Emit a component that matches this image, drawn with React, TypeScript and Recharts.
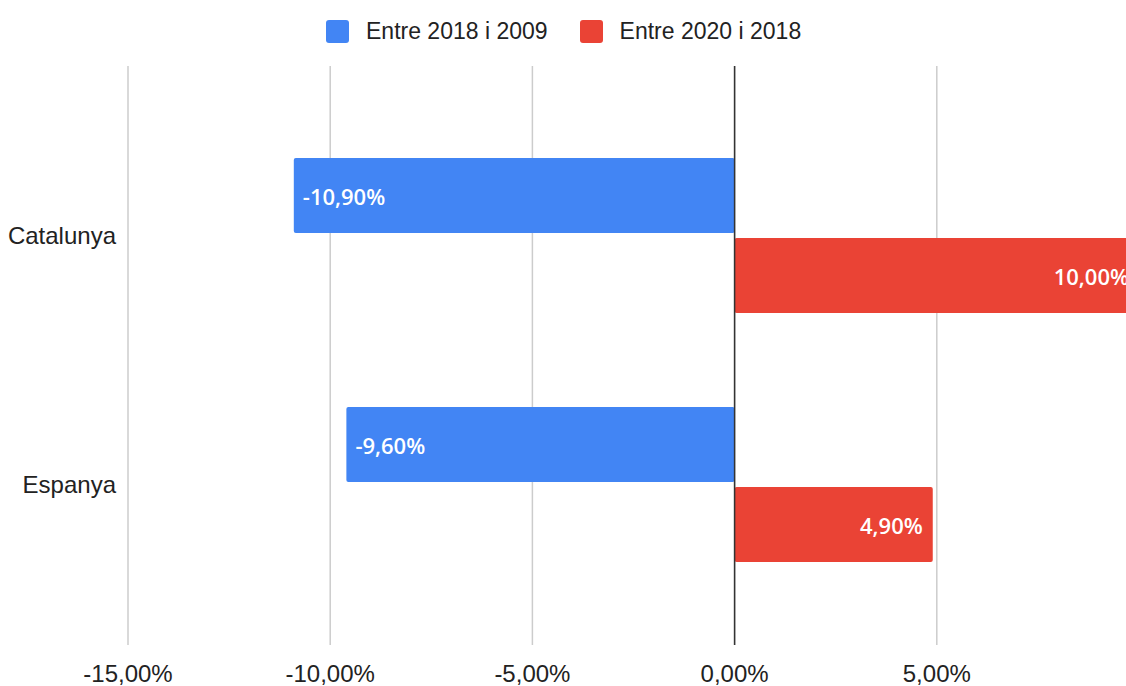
import { BarChart, Bar, XAxis, YAxis, CartesianGrid, ReferenceLine, Legend, LabelList } from "recharts";

const regions = ["Catalunya", "Espanya"];
const change2018vs2009 = [-10.9, -9.6];
const change2020vs2018 = [10.0, 4.9];
const seriesNames = ["Entre 2018 i 2009", "Entre 2020 i 2018"];
const xTicks = [-15, -10, -5, 0, 5];

const COLORS = ["#4285F4", "#EA4335"];
const AXIS_FONT = "'Liberation Sans', Arial, sans-serif";

const data = regions.map((name, i) => ({ name, a: change2018vs2009[i], b: change2020vs2018[i] }));

const pct = (v: number) => `${Number(v).toFixed(2).replace(".", ",")}%`;

function BarText(props: any) {
  const { x, y, width, height, value } = props;
  const left = Math.min(x, x + width);
  const right = Math.max(x, x + width);
  const neg = value < 0;
  return (
    <text
      x={neg ? left + 9 : right - 10}
      y={y + height / 2}
      textAnchor={neg ? "start" : "end"}
      dominantBaseline="central"
      fill="#fff"
      style={{ fontFamily: "'Open Sans', sans-serif", fontSize: 22, fontWeight: 600 }}
    >
      {pct(value)}
    </text>
  );
}

function LegendBox() {
  return (
    <div style={{ display: "flex", alignItems: "center", fontFamily: AXIS_FONT, fontSize: 23, color: "#222" }}>
      {seriesNames.map((s, i) => (
        <div key={s} style={{ display: "flex", alignItems: "center", marginRight: 32 }}>
          <span style={{ width: 23, height: 23, borderRadius: 3, background: COLORS[i], marginRight: 17, display: "inline-block" }} />
          <span>{s}</span>
        </div>
      ))}
    </div>
  );
}

export default function App() {
  return (
    <div style={{ position: "absolute", left: 0, top: 0, width: 1126, height: 686, overflow: "hidden", background: "#fff" }}>
      <BarChart
        width={1139}
        height={686}
        data={data}
        layout="vertical"
        margin={{ top: 66, right: 0, bottom: 0, left: 0 }}
        barSize={75}
        barGap={5}
      >
        <CartesianGrid horizontal={false} stroke="#ccc" strokeWidth={1.5} />
        <XAxis
          type="number"
          domain={[-15, 10]}
          ticks={xTicks}
          tickFormatter={pct}
          axisLine={false}
          tickLine={false}
          height={41}
          tickMargin={14}
          tick={{ fontFamily: AXIS_FONT, fontSize: 24, fill: "#222" }}
          allowDataOverflow
        />
        <YAxis
          type="category"
          dataKey="name"
          width={128}
          axisLine={false}
          tickLine={false}
          tickMargin={6}
          padding={{ top: 45, bottom: 36 }}
          tick={{ fontFamily: AXIS_FONT, fontSize: 24, fill: "#222" }}
        />
        <Legend
          layout="horizontal"
          align="center"
          verticalAlign="middle"
          wrapperStyle={{ top: 18, left: 326, width: 700 }}
          content={() => <LegendBox />}
        />
        <Bar dataKey="a" name={seriesNames[0]} fill={COLORS[0]} radius={2} isAnimationActive={false}>
          <LabelList dataKey="a" content={BarText} />
        </Bar>
        <Bar dataKey="b" name={seriesNames[1]} fill={COLORS[1]} radius={2} isAnimationActive={false}>
          <LabelList dataKey="b" content={BarText} />
        </Bar>
        <ReferenceLine x={0} stroke="#333" strokeWidth={1.5} />
      </BarChart>
    </div>
  );
}
